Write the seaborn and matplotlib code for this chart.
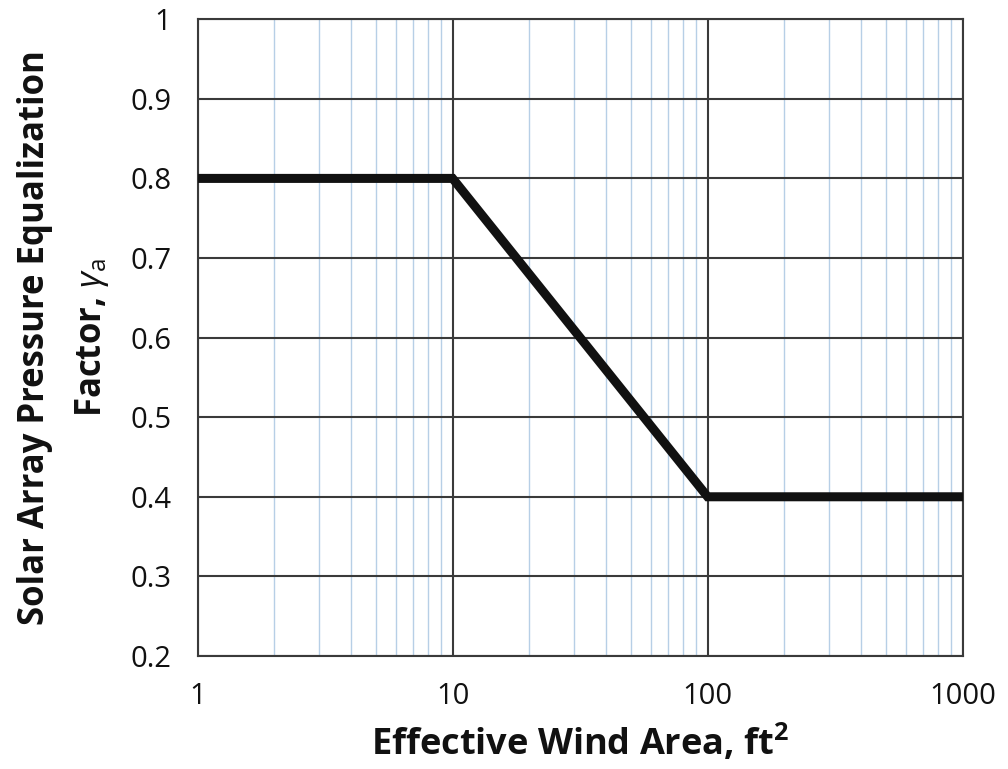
import numpy as np
import pandas as pd
import matplotlib
matplotlib.use('Agg')
import matplotlib.pyplot as plt
import matplotlib.ticker as mticker
import seaborn as sns

# Curve
area = [1, 10, 100, 1000]
factor = [0.8, 0.8, 0.4, 0.4]
x_ticks = [1, 10, 100, 1000]
y_ticks = [0.2, 0.3, 0.4, 0.5, 0.6, 0.7, 0.8, 0.9, 1.0]
y_tick_labels = ['0.2', '0.3', '0.4', '0.5', '0.6', '0.7', '0.8', '0.9', '1']

sns.set_style('white')
plt.rcParams['font.family'] = ['Open Sans', 'DejaVu Sans']
plt.rcParams['mathtext.fontset'] = 'custom'
plt.rcParams['mathtext.rm'] = 'Open Sans'
plt.rcParams['mathtext.it'] = 'Open Sans:italic'
plt.rcParams['mathtext.bf'] = 'Open Sans:bold'

df = pd.DataFrame({'area': area, 'factor': factor})

fig = plt.figure(figsize=(10.08, 7.69), dpi=100)
ax = fig.add_axes([0.196, 0.147, 0.759, 0.828])

sns.lineplot(data=df, x='area', y='factor', ax=ax, color='#111111',
             linewidth=6.5, solid_joinstyle='miter', zorder=5)

ax.set_xscale('log')
ax.set_xlim(1, 1000)
ax.set_ylim(0.2, 1.0)
ax.set_xticks(x_ticks)
ax.set_xticklabels([str(v) for v in x_ticks])
ax.xaxis.set_minor_locator(mticker.LogLocator(base=10, subs=np.arange(2, 10)))
ax.xaxis.set_minor_formatter(mticker.NullFormatter())
ax.set_yticks(y_ticks)
ax.set_yticklabels(y_tick_labels)

ax.grid(which='major', color='#3a3a3a', linewidth=1.5)
ax.grid(which='minor', axis='x', color='#b7cfe6', linewidth=1.0)
ax.set_axisbelow(True)

for s in ax.spines.values():
    s.set_color('#3a3a3a')
    s.set_linewidth(1.5)

ax.tick_params(axis='both', which='major', direction='out', length=5,
               width=1.5, color='#3a3a3a', labelsize=21, pad=14,
               labelcolor='#111111')
ax.tick_params(axis='x', which='minor', direction='in', length=7,
               width=1.6, color='#222222')

ax.set_xlabel('Effective Wind Area, ft$\\mathbf{^2}$', fontsize=26,
              fontweight='bold', labelpad=8, color='#111111')
ax.set_ylabel('Solar Array Pressure Equalization\nFactor, $\\gamma_\\mathrm{a}$',
              fontsize=25, fontweight='bold', labelpad=14, color='#111111',
              linespacing=1.7)

fig.savefig('out.png', dpi=100)
